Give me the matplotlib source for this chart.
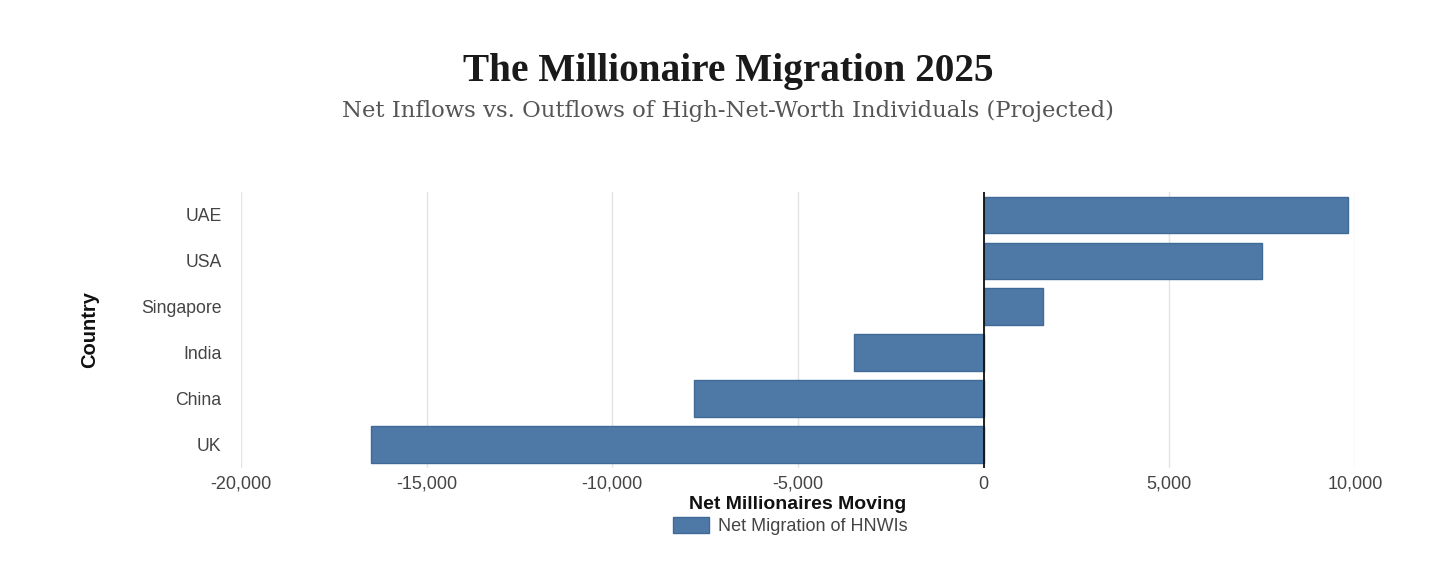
import matplotlib
matplotlib.use("Agg")
import matplotlib.pyplot as plt
from matplotlib.ticker import FuncFormatter, MultipleLocator
from matplotlib.patches import Patch

countries = ["UAE", "USA", "Singapore", "India", "China", "UK"]
net_migration = [9800, 7500, 1600, -3500, -7800, -16500]

title = "The Millionaire Migration 2025"
subtitle = "Net Inflows vs. Outflows of High-Net-Worth Individuals (Projected)"
x_label = "Net Millionaires Moving"
y_label = "Country"
legend_label = "Net Migration of HNWIs"

bar_color = "#4e79a7"
edge_color = "#3f6a98"
sans = ["Liberation Sans", "DejaVu Sans"]

fig = plt.figure(figsize=(14.56, 5.69), dpi=100)
ax = fig.add_axes([241/1456, 1-467.5/569, (1355-241)/1456, (467.5-192)/569])

ypos = list(range(len(countries)))[::-1]
ax.barh(ypos, net_migration, height=0.8, color=bar_color, edgecolor=edge_color, linewidth=1, zorder=3)
ax.set_ylim(-0.5, len(countries)-0.5)
ax.set_yticks(ypos)
ax.set_yticklabels(countries, family=sans, fontsize=12.7, color="#444444")
ax.set_xlim(-20000, 10000)
ax.xaxis.set_major_locator(MultipleLocator(5000))
ax.xaxis.set_major_formatter(FuncFormatter(lambda v, p: f"{int(v):,}"))
for lbl in ax.get_xticklabels():
    lbl.set_family(sans)
ax.tick_params(axis="x", labelsize=13, labelcolor="#444444", length=0, pad=6)
ax.tick_params(axis="y", length=0, pad=14)
ax.grid(axis="x", color="#e3e3e3", linewidth=1, zorder=0)
ax.axvline(0, color="#111111", linewidth=1.3, zorder=4)
for s in ax.spines.values():
    s.set_visible(False)

ax.set_xlabel(x_label, family=sans, fontsize=14, fontweight="bold", color="#111111", labelpad=2)
ax.set_ylabel(y_label, family=sans, fontsize=14.5, fontweight="bold", color="#111111", labelpad=30)

fig.text(0.5, 1-72/569, title, ha="center", va="center", family=["Liberation Serif", "DejaVu Serif"],
         fontsize=28.3, fontweight="bold", color="#1a1a1a")
fig.text(0.5, 1-111/569, subtitle, ha="center", va="center", family=["DejaVu Serif"], fontsize=16.4, color="#555555")

leg = fig.legend(handles=[Patch(facecolor=bar_color, edgecolor=edge_color, label=legend_label)],
                 loc="center", bbox_to_anchor=(790/1456, 1-526/569), frameon=False,
                 prop={"family": sans, "size": 13}, handlelength=2.0, handleheight=1.0, handletextpad=0.5)
for t in leg.get_texts():
    t.set_color("#444444")

fig.savefig("out.png", dpi=100, facecolor="white")
